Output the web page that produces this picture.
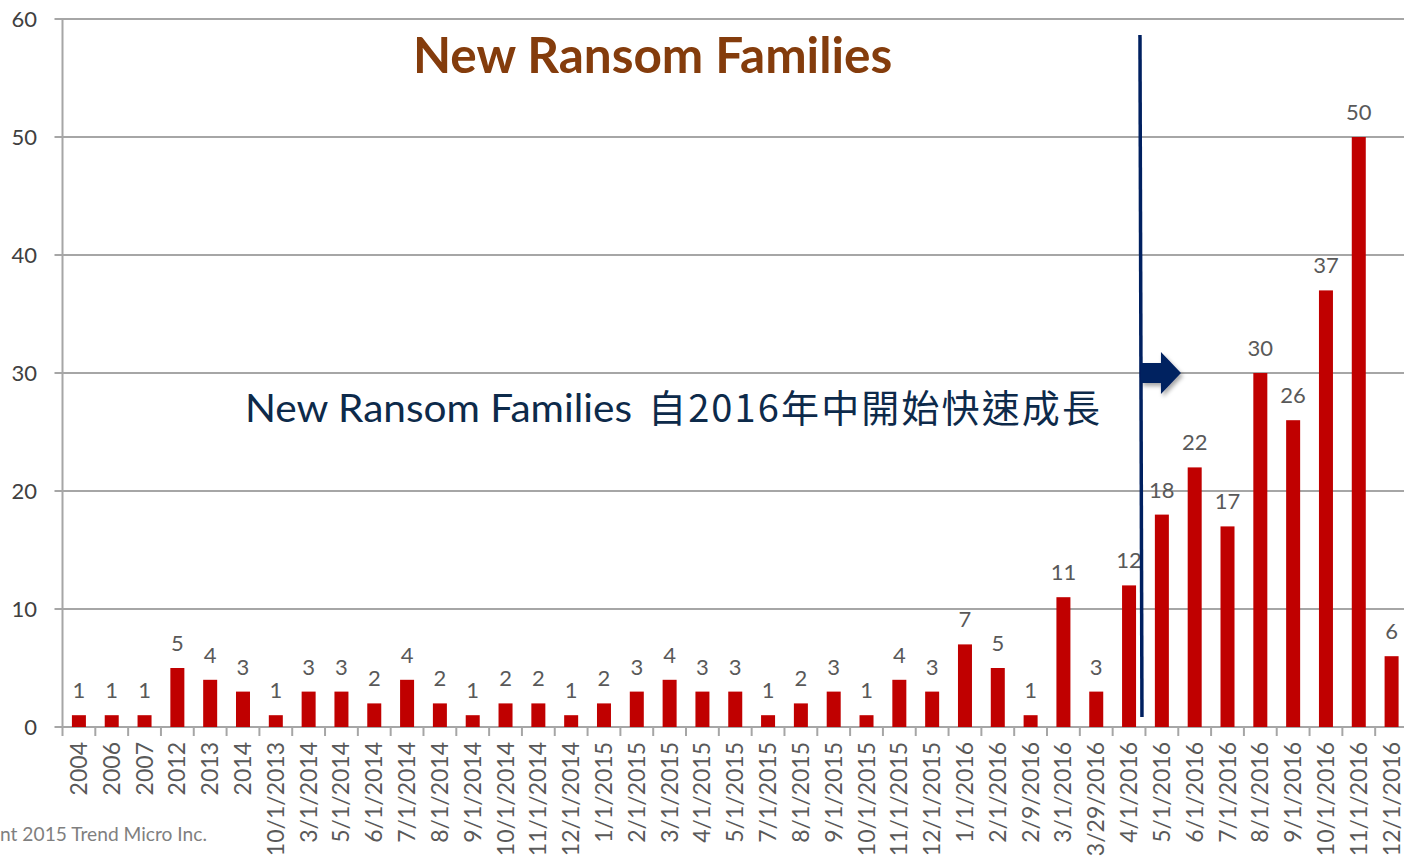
<!DOCTYPE html>
<html>
<head>
<meta charset="utf-8">
<script src="https://cdn.jsdelivr.net/npm/d3@7"></script>
<style>
  body { margin: 0; background: #fff; }
  svg { display: block; font-family: Lato, "Noto Sans", sans-serif; }
</style>
</head>
<body>
<div id="chart"></div>
<script>
// categories and counts of new ransomware families
let categories = ['2004', '2006', '2007', '2012', '2013', '2014', '10/1/2013', '3/1/2014', '5/1/2014',
  '6/1/2014', '7/1/2014', '8/1/2014', '9/1/2014', '10/1/2014', '11/1/2014', '12/1/2014', '1/1/2015',
  '2/1/2015', '3/1/2015', '4/1/2015', '5/1/2015', '7/1/2015', '8/1/2015', '9/1/2015', '10/1/2015',
  '11/1/2015', '12/1/2015', '1/1/2016', '2/1/2016', '2/9/2016', '3/1/2016', '3/29/2016', '4/1/2016',
  '5/1/2016', '6/1/2016', '7/1/2016', '8/1/2016', '9/1/2016', '10/1/2016', '11/1/2016', '12/1/2016']
let counts = [1, 1, 1, 5, 4, 3, 1, 3, 3, 2, 4, 2, 1, 2, 2, 1, 2, 3, 4, 3, 3, 1, 2, 3, 1, 4, 3, 7, 5, 1,
  11, 3, 12, 18, 22, 17, 30, 26, 37, 50, 6]
let yTicks = [0, 10, 20, 30, 40, 50, 60]

let title = 'New Ransom Families'
let noteLatin = 'New Ransom Families'
let noteCjk = '自2016年中開始快速成長'
let footer = 'nt 2015 Trend Micro Inc.'

let data = categories.map((c, i) => ({ cat: c, value: counts[i] }))

let width = 1404
let height = 860
let margin = { top: 19, left: 62.5, right: -4, bottom: 133 }

let svg = d3
  .select('#chart')
  .append('svg')
  .attr('width', width)
  .attr('height', height)

let x = d3
  .scaleBand()
  .domain(categories)
  .range([margin.left, width - margin.right])
  .paddingInner(0)
  .paddingOuter(0)

let y = d3
  .scaleLinear()
  .domain([0, 60])
  .range([height - margin.bottom, margin.top])

// gridlines
svg
  .selectAll('.grid')
  .data(yTicks)
  .enter()
  .append('line')
  .attr('class', 'grid')
  .attr('x1', margin.left - 8)
  .attr('x2', width)
  .attr('y1', d => y(d))
  .attr('y2', d => y(d))
  .attr('stroke', '#a6a6a6')
  .attr('stroke-width', 2)

// y axis line
svg
  .append('line')
  .attr('x1', margin.left)
  .attr('x2', margin.left)
  .attr('y1', y(60))
  .attr('y2', y(0) + 9)
  .attr('stroke', '#a6a6a6')
  .attr('stroke-width', 2)

svg
  .selectAll('.ytick')
  .data(yTicks)
  .enter()
  .append('text')
  .attr('class', 'ytick')
  .attr('x', 37)
  .attr('y', d => y(d) + 8)
  .attr('text-anchor', 'end')
  .attr('font-size', '22px')
  .attr('fill', '#404040')
  .text(d => d)

// category tick marks at band edges
svg
  .selectAll('.xtick')
  .data(categories.slice(1))
  .enter()
  .append('line')
  .attr('class', 'xtick')
  .attr('x1', d => x(d))
  .attr('x2', d => x(d))
  .attr('y1', y(0))
  .attr('y2', y(0) + 9)
  .attr('stroke', '#a6a6a6')
  .attr('stroke-width', 2)

let barW = 14

svg
  .selectAll('.bar')
  .data(data)
  .enter()
  .append('rect')
  .attr('class', 'bar')
  .attr('x', d => x(d.cat) + x.bandwidth() / 2 - barW / 2)
  .attr('y', d => y(d.value))
  .attr('width', barW)
  .attr('height', d => y(0) - y(d.value))
  .attr('fill', '#c00000')

svg
  .selectAll('.val')
  .data(data)
  .enter()
  .append('text')
  .attr('class', 'val')
  .attr('x', d => x(d.cat) + x.bandwidth() / 2)
  .attr('y', d => y(d.value) - 17)
  .attr('text-anchor', 'middle')
  .attr('font-size', '22px')
  .attr('fill', '#595959')
  .text(d => d.value)

svg
  .selectAll('.xlab')
  .data(categories)
  .enter()
  .append('text')
  .attr('class', 'xlab')
  .attr('transform', d => 'translate(' + (x(d) + x.bandwidth() / 2 + 8) + ',' + (y(0) + 15) + ') rotate(-90)')
  .attr('text-anchor', 'end')
  .attr('font-size', '23px')
  .attr('fill', '#595959')
  .text(d => d)

// title
svg
  .append('text')
  .attr('x', 413)
  .attr('y', 73)
  .attr('font-size', '49.5px')
  .attr('font-weight', 'bold')
  .attr('fill', '#843c0c')
  .text(title)

// annotation text, latin part then chinese part
svg
  .append('text')
  .attr('x', 245)
  .attr('y', 422)
  .attr('font-size', '39px')
  .attr('textLength', 387)
  .attr('lengthAdjust', 'spacingAndGlyphs')
  .attr('fill', '#0d2a4a')
  .text(noteLatin)

svg
  .append('text')
  .attr('x', 648)
  .attr('y', 422)
  .attr('font-size', '38px')
  .attr('textLength', 452)
  .attr('lengthAdjust', 'spacing')
  .attr('fill', '#0d2a4a')
  .style('font-family', '"Noto Sans CJK TC", sans-serif')
  .text(noteCjk)

// divider line and arrow
let lineX = x('5/1/2016') - 4.5
svg
  .append('line')
  .attr('x1', lineX - 1)
  .attr('x2', lineX + 1)
  .attr('y1', 35)
  .attr('y2', 717)
  .attr('stroke', '#002060')
  .attr('stroke-width', 3.5)

let defs = svg.append('defs')
let f = defs.append('filter').attr('id', 'shadow').attr('x', '-20%').attr('y', '-20%').attr('width', '160%').attr('height', '160%')
f.append('feDropShadow').attr('dx', 2).attr('dy', 3).attr('stdDeviation', 2).attr('flood-color', '#000').attr('flood-opacity', 0.35)

let ay = y(30)
svg
  .append('path')
  .attr('d', 'M' + (lineX) + ',' + (ay - 10) +
    'H' + (lineX + 20) + 'V' + (ay - 21) +
    'L' + (lineX + 40) + ',' + ay +
    'L' + (lineX + 20) + ',' + (ay + 21) +
    'V' + (ay + 10) + 'H' + lineX + 'Z')
  .attr('fill', '#002060')
  .attr('filter', 'url(#shadow)')

// footer (the reference shows it cut at the left edge)
svg
  .append('text')
  .attr('x', 0)
  .attr('y', 841)
  .attr('font-size', '19px')
  .attr('textLength', 207)
  .attr('lengthAdjust', 'spacingAndGlyphs')
  .attr('fill', '#7f7f7f')
  .text(footer)
</script>
</body>
</html>
